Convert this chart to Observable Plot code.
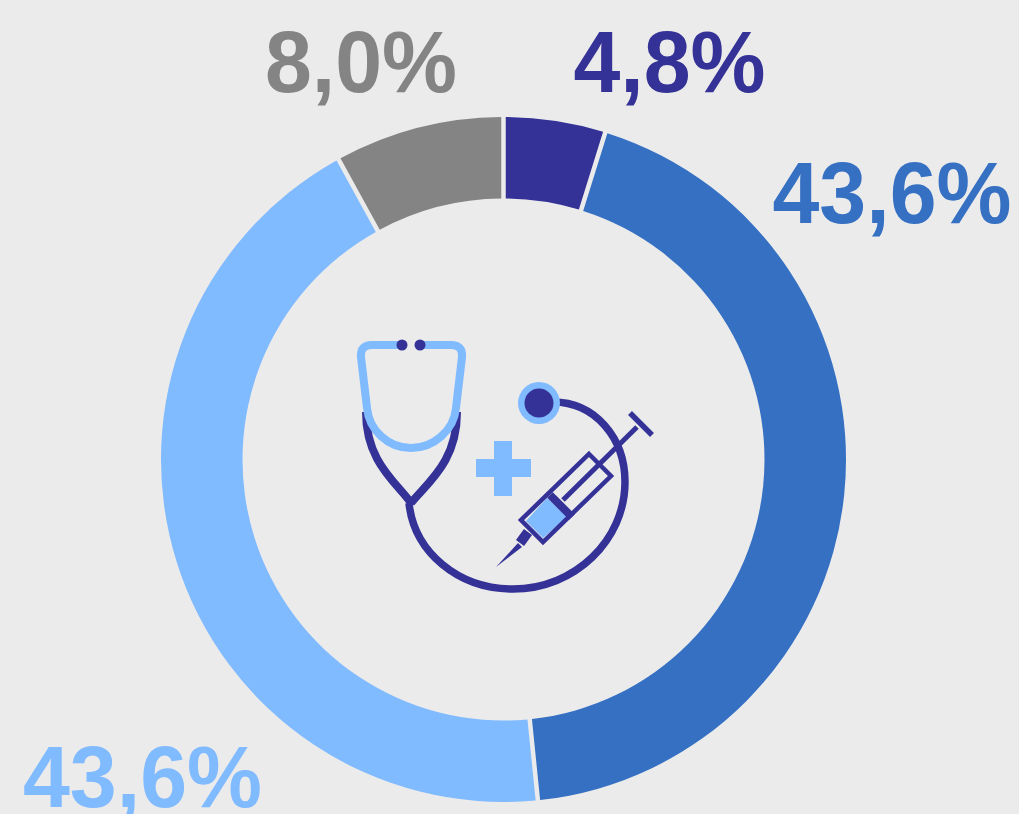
<!DOCTYPE html>
<html>
<head>
<meta charset="utf-8">
<script src="https://cdn.jsdelivr.net/npm/d3@7"></script>
<script src="https://cdn.jsdelivr.net/npm/@observablehq/plot@0.6"></script>
<style>
html,body{margin:0;padding:0;background:#ebebeb;overflow:hidden}
svg{display:block}
</style>
</head>
<body>
<div id="chart"></div>
<script>
const categories = ["A", "B", "C", "D"];
const shares = [4.8, 43.6, 43.6, 8.0];
const colors = ["#353297", "#3570c3", "#80baff", "#848484"];
const labelX = [669, 891.5, 142, 360.5];
const labelY = [91, 222, 806, 91];

const rows = categories.map((c, i) => ({
  category: c, share: shares[i], color: colors[i],
  label: shares[i].toFixed(1).replace(".", ",") + "%",
  lx: labelX[i], ly: labelY[i]
}));

const cx = 503.5, cy = 459.5, rOuter = 342.5, rInner = 261, gap = 4.5;

function donut(index, scales) {
  const pie = d3.pie().sort(null).value(d => d.share)(rows);
  const arc = d3.arc().innerRadius(rInner).outerRadius(rOuter)
    .padAngle(gap / rOuter).padRadius(rOuter);
  const g = d3.create("svg:g")
    .attr("transform", `translate(${scales.x(cx)},${scales.y(cy)})`);
  g.selectAll("path").data(pie).join("path")
    .attr("d", arc)
    .attr("fill", d => d.data.color);
  return g.node();
}

const DARK = colors[0], LIGHT = colors[2];
const iconLines = [
  {d:"M366,412C366,462 396,482 411,503", c:DARK, w:8},
  {d:"M457,412C457,462 428,482 411,503", c:DARK, w:8},
  {d:"M409,503C414,552 458,589 513,589C575,589 625,540 625,482C625,438 595,402 553,402", c:DARK, w:7.5},
  {d:"M400,345H372Q360,345 361,357L367,408C369,430 388,448 411,448C434,448 454,430 456,408L462,357Q463,345 451,345H422", c:LIGHT, w:8},
  {d:"M563,500L637,427", c:DARK, w:5},
  {d:"M630,413L652,435", c:DARK, w:5.5},
  {d:"M589,454L611,476L543,542L521,520Z", c:DARK, w:4.5},
  {d:"M550,495L572,517", c:DARK, w:8},
  {d:"M528,532L520,543", c:DARK, w:10}
];
const iconFills = [
  {d:"M494,441H512V459H531V477H512V496H494V477H476V459H494Z", c:LIGHT},
  {d:"M547,498L567,517L543,538L526,521Z", c:LIGHT},
  {d:"M518,543L522,547L496,567Z", c:DARK}
];
const iconDots = [
  {x:539, y:403, r:21, c:LIGHT},
  {x:539, y:403, r:14.5, c:DARK},
  {x:402, y:345, r:5.5, c:DARK},
  {x:420, y:345, r:5.5, c:DARK}
];

function icon() {
  const g = d3.create("svg:g");
  for (const s of iconFills) g.append("path").attr("d", s.d).attr("fill", s.c);
  for (const s of iconLines) g.append("path").attr("d", s.d).attr("fill", "none")
    .attr("stroke", s.c).attr("stroke-width", s.w).attr("stroke-linejoin", "miter");
  for (const s of iconDots) g.append("circle").attr("cx", s.x).attr("cy", s.y).attr("r", s.r).attr("fill", s.c);
  return g.node();
}

const chart = Plot.plot({
  width: 1019, height: 814,
  margin: 0,
  style: {background: "#ebebeb", fontFamily: "'Liberation Sans', Arial, sans-serif"},
  x: {domain: [0, 1019], range: [0, 1019], axis: null},
  y: {domain: [0, 814], range: [0, 814], axis: null},
  marks: [
    donut,
    icon,
    Plot.text(rows, {
      x: "lx", y: "ly", text: "label", fill: "color",
      fontSize: 87, fontWeight: "bold", textAnchor: "middle", lineAnchor: "bottom"
    })
  ]
});
document.getElementById("chart").append(chart);
chart.querySelectorAll("text").forEach(t => {
  t.setAttribute("textLength", t.getComputedTextLength() * 84.3 / 87);
  t.setAttribute("lengthAdjust", "spacingAndGlyphs");
});
</script>
</body>
</html>
